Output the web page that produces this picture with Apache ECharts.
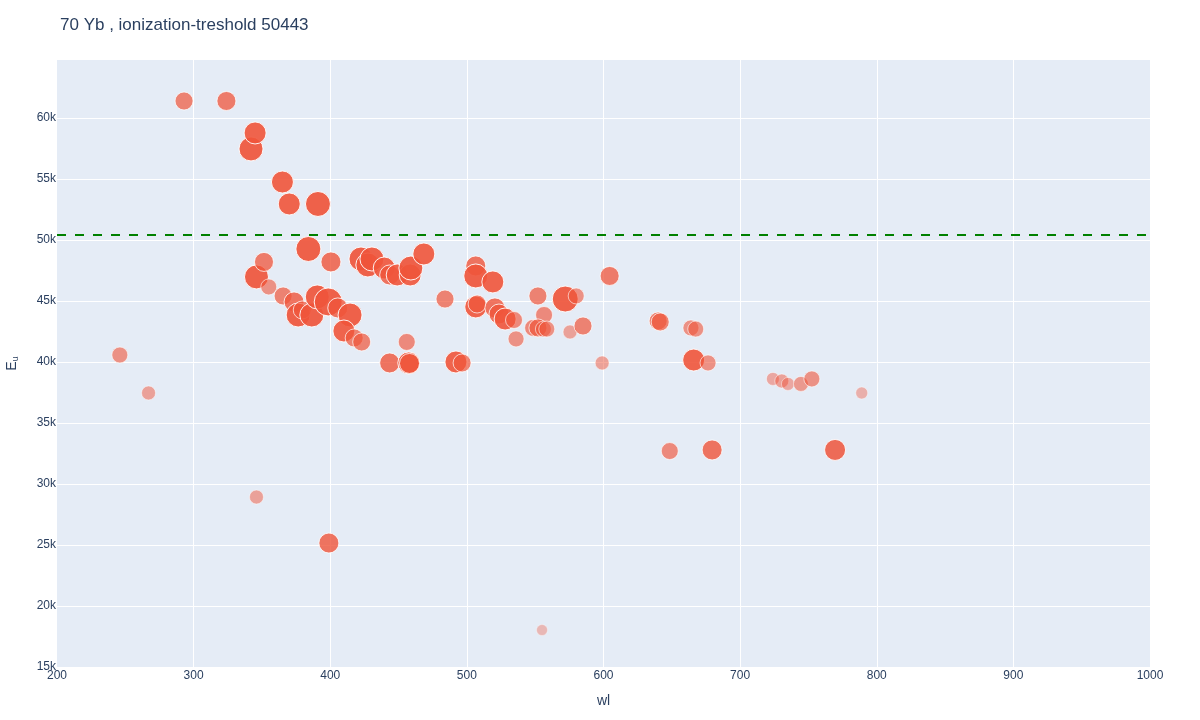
<!DOCTYPE html>
<html>
<head>
<meta charset="utf-8">
<script src="https://cdn.jsdelivr.net/npm/echarts@6/dist/echarts.min.js"></script>
<style>html,body{margin:0;padding:0;background:#fff;}#c{width:1200px;height:720px;}</style>
</head>
<body>
<div id="c"></div>
<script>
const titleText = '70 Yb , ionization-treshold 50443';
const threshold = 50443;
const xTicks = [200, 300, 400, 500, 600, 700, 800, 900, 1000];
const yTicks = [15000, 20000, 25000, 30000, 35000, 40000, 45000, 50000, 55000, 60000];
const wl = [246, 267, 293, 324, 342, 345, 346, 365, 370, 391, 384, 400.5, 346, 351.5, 355, 365.5, 373.5, 376.5, 379.5, 386.5, 390.5, 398.5, 405.5, 414.5, 410, 417.5, 423, 399, 422.5, 427.5, 430.5, 439.5, 443.5, 449, 458.5, 459, 468.5, 484, 443.5, 456, 457.5, 458, 492, 496.5, 506.5, 506.5, 519, 506.5, 507.5, 520.5, 523.5, 528, 534.5, 536, 552, 556.5, 548.5, 552, 556, 558.5, 572, 580, 575.5, 585, 555, 599, 604.5, 640, 641.5, 664, 667.5, 666, 676.5, 648.5, 679.5, 724, 730.5, 735, 744.5, 752.5, 769.5, 789];
const Eu = [40570, 37460, 61390, 61390, 57460, 58770, 28930, 54750, 52950, 52950, 49260, 48200, 46970, 48200, 46150, 45410, 44920, 43850, 44260, 43850, 45330, 44920, 44430, 43850, 42540, 41970, 41640, 25160, 48440, 47950, 48440, 47700, 47130, 47130, 47130, 47700, 48850, 45160, 39920, 41640, 39920, 39880, 40000, 39920, 47870, 47050, 46560, 44510, 44750, 44430, 43930, 43520, 43440, 41890, 45410, 43850, 42790, 42790, 42700, 42700, 45160, 45410, 42460, 42950, 18030, 39920, 47050, 43360, 43280, 42790, 42700, 40160, 39920, 32700, 32790, 38610, 38440, 38200, 38200, 38610, 32790, 37460];
const intensity = [3.5, 2.5, 4.5, 5, 7.5, 6.5, 2.5, 6.5, 6.5, 8, 8, 5.5, 7.5, 5, 3.5, 4.5, 5.5, 7.5, 4.5, 7.5, 7.5, 9.5, 5.5, 7.5, 6.5, 4.5, 4.5, 5.5, 7.5, 7.5, 7.5, 6.5, 5.5, 6.5, 6.5, 7.5, 6.5, 4.5, 5.5, 4, 6.5, 5.5, 6.5, 4.5, 5.5, 7.5, 6.5, 6.5, 4.5, 5.5, 5.5, 6.5, 4, 3.5, 4.5, 4, 4, 4.5, 3.5, 3.5, 8.5, 3.5, 2.5, 4.5, 1, 2.5, 5, 4.5, 4.5, 3.5, 3.5, 6.5, 3.5, 4, 5.5, 2, 2.5, 2, 3, 3.5, 6, 1.5];

const pts = wl.map((x, i) => {
  const I = intensity[i];
  return {
    value: [x, Eu[i], I],
    symbolSize: 9 + 2 * I,
    itemStyle: { opacity: Math.min(0.92, 0.25 + 0.1 * I) }
  };
});

const txt = '#2a3f5f';
const font = '"Liberation Sans", Arial, sans-serif';
const chart = echarts.init(document.getElementById('c'), null, { renderer: 'canvas' });
chart.setOption({
  backgroundColor: '#fff',
  animation: false,
  title: {
    text: titleText, left: 55, top: 12,
    textStyle: { color: txt, fontSize: 17, fontWeight: 'normal', fontFamily: font }
  },
  grid: {
    left: 57, right: 50, top: 60, bottom: 53,
    show: true, backgroundColor: '#E5ECF6', borderWidth: 0,
    containLabel: false, outerBoundsMode: 'none'
  },
  xAxis: {
    type: 'value', min: xTicks[0], max: xTicks[xTicks.length - 1], interval: 100,
    name: 'wl', nameLocation: 'middle', nameGap: 27,
    nameTextStyle: { color: txt, fontSize: 14, fontFamily: font },
    axisLine: { show: false }, axisTick: { show: false },
    axisLabel: { color: txt, fontSize: 12, fontFamily: font, margin: 3, formatter: v => String(v) },
    splitLine: { show: true, lineStyle: { color: '#fff', width: 1 }, showMinLine: false, showMaxLine: false }
  },
  yAxis: {
    type: 'value', min: yTicks[0], max: 64750, interval: 5000,
    name: '{a|E}{b|u}', nameLocation: 'middle', nameGap: 37, nameRotate: 90,
    nameTextStyle: {
      color: txt, fontFamily: font,
      rich: { a: { fontSize: 14, color: txt, fontFamily: font }, b: { fontSize: 9, color: txt, fontFamily: font, verticalAlign: 'bottom', padding: [6, 0, 0, 0] } }
    },
    axisLine: { show: false }, axisTick: { show: false },
    axisLabel: {
      color: txt, fontSize: 12, fontFamily: font, margin: 1, showMaxLabel: false,
      formatter: v => (yTicks.indexOf(v) >= 0 ? (v / 1000) + 'k' : '')
    },
    splitLine: { show: true, lineStyle: { color: '#fff', width: 1 }, showMinLine: false, showMaxLine: false }
  },
  series: [{
    type: 'scatter',
    data: pts,
    itemStyle: { color: '#EF553B', borderColor: '#ffffff', borderWidth: 1 },
    markLine: {
      silent: true, symbol: 'none', animation: false,
      label: { show: false },
      lineStyle: { color: '#008000', type: [9, 9], width: 2 },
      data: [{ yAxis: threshold }]
    }
  }]
});
</script>
</body>
</html>
